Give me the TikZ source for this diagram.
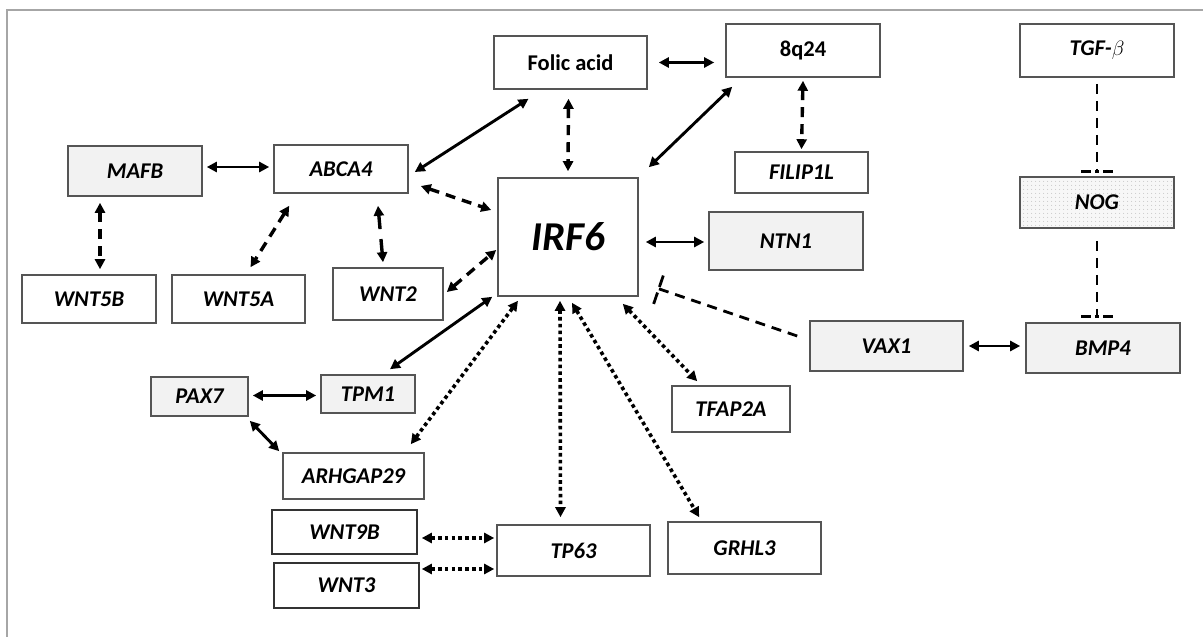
\documentclass[tikz,border=0pt]{standalone}
\usepackage{fontspec}
\setmainfont{Carlito}
\usetikzlibrary{arrows.meta,calc,patterns.meta}
\definecolor{boxgray}{HTML}{F2F2F2}
\definecolor{edgegray}{HTML}{555555}
\begin{document}
\begin{tikzpicture}[x=1pt,y=-1pt,
  gbox/.style={draw=edgegray,line width=1.6pt,fill=white,inner sep=0pt,
     font=\fontsize{22.5}{22.5}\selectfont\bfseries\itshape},
  sbox/.style={gbox,fill=boxgray},
  ubox/.style={gbox,font=\fontsize{22.5}{22.5}\selectfont\bfseries},
  >={Triangle[length=10pt,width=10pt]},
  solidarr/.style={<->,line width=2.9pt},
  dasharr/.style={<->,line width=3.4pt,dash pattern=on 10pt off 7pt},
  dotarr/.style={<->,line width=3.6pt,dash pattern=on 3.6pt off 3.2pt},
  inhib/.style={line width=2.8pt,dash pattern=on 10pt off 7pt},
  barline/.style={line width=2.8pt,dash pattern=on 10pt off 4pt on 4pt off 4pt on 10pt},
]
\useasboundingbox (0,0) rectangle (1203,637);
\draw[gray!70,line width=1.6pt] (7,637) -- (7,10) -- (1203,10);

% nodes
\node[ubox,minimum width=153pt,minimum height=53pt] (folic) at (570.5,62.5) {Folic acid};
\node[ubox,minimum width=154pt,minimum height=53pt] (q24) at (803,50.5) {8q24};
\node[gbox,minimum width=154pt,minimum height=53pt] (tgf) at (1097,50.5) {TGF-$\beta$};
\node[gbox,minimum width=133pt,minimum height=41pt] (filip) at (801.5,172.5) {FILIP1L};
\node[sbox,minimum width=154pt,minimum height=58pt] (ntn1) at (786,241) {NTN1};
\node[gbox,minimum width=154pt,minimum height=51pt,
      preaction={fill=gray!6},pattern={Dots[distance=4pt,radius=0.5pt]},pattern color=gray!60] (nog) at (1097,202.5) {NOG};
\node[gbox,minimum width=140pt,minimum height=118pt,font=\fontsize{41}{41}\selectfont\bfseries\itshape] (irf6) at (568,237) {IRF6};
\node[sbox,minimum width=134pt,minimum height=50pt] (mafb) at (135,171) {MAFB};
\node[gbox,minimum width=134pt,minimum height=48pt] (abca4) at (341,169) {ABCA4};
\node[gbox,minimum width=134pt,minimum height=48pt] (wnt5b) at (89,299) {WNT5B};
\node[gbox,minimum width=133pt,minimum height=48pt] (wnt5a) at (238.5,299) {WNT5A};
\node[gbox,minimum width=110pt,minimum height=52pt] (wnt2) at (388,294) {WNT2};
\node[sbox,minimum width=97pt,minimum height=39pt] (pax7) at (199.5,396.5) {PAX7};
\node[sbox,minimum width=94pt,minimum height=38pt] (tpm1) at (368,394) {TPM1};
\node[gbox,minimum width=141pt,minimum height=46pt] (arhgap) at (353.5,476) {ARHGAP29};
\node[gbox,draw=black!80,minimum width=145pt,minimum height=44pt] (wnt9b) at (344.5,532) {WNT9B};
\node[gbox,draw=black!80,minimum width=145pt,minimum height=45pt] (wnt3) at (346.5,585.5) {WNT3};
\node[gbox,minimum width=153pt,minimum height=51pt] (tp63) at (573.5,550.5) {TP63};
\node[gbox,minimum width=153pt,minimum height=52pt] (grhl3) at (744.5,548) {GRHL3};
\node[gbox,minimum width=118pt,minimum height=46pt] (tfap2a) at (731,409) {TFAP2A};
\node[sbox,minimum width=153pt,minimum height=50pt] (vax1) at (886.5,346) {VAX1};
\node[sbox,minimum width=154pt,minimum height=50pt] (bmp4) at (1103,348) {BMP4};

% solid connectors
\draw[solidarr] ($(folic.east)+(11,0)$) -- ($(folic.east -| q24.west)+(-11,0)$);
\draw[solidarr] ($(abca4.east)+(6,3)$) -- ($(folic.south)+(-42,9)$);
\draw[solidarr] ($(q24.south west)+(7,9)$) -- ($(irf6.north east)+(10,-10)$);
\draw[solidarr] ($(mafb.east)+(4,-4)$) -- ($(mafb.east -| abca4.west)+(-4,-4)$);
\draw[solidarr] ($(irf6.east)+(7,5)$) -- ($(irf6.east -| ntn1.west)+(-4,5)$);
\draw[solidarr] ($(tpm1.north)+(22,-5)$) -- ($(irf6.south west)+(-5,0)$);
\draw[solidarr] ($(pax7.east)+(4,-1)$) -- ($(pax7.east -| tpm1.west)+(-4,-1)$);
\draw[solidarr] ($(pax7.south east)+(1,4)$) -- ($(arhgap.north west)+(-3,-1)$);
\draw[solidarr] ($(vax1.east)+(5,0)$) -- ($(vax1.east -| bmp4.west)+(-5,0)$);

% dashed connectors
\draw[dasharr] ($(folic.south)+(-2,9)$) -- ($(irf6.north)+(0,-6)$);
\draw[dasharr] ($(q24.south)+(0,3)$) -- ($(filip.north)+(0,-2)$);
\draw[dasharr] ($(mafb.south)+(-35,6)$) -- ($(mafb.south |- wnt5b.north)+(-35,-5)$);
\draw[dasharr] ($(abca4.south west)+(16,12)$) -- ($(wnt5a.north)+(12,-7)$);
\draw[dasharr,dash pattern=on 14pt off 10pt] ($(abca4.south)+(37,12)$) -- ($(wnt2.north)+(-5,-5)$);
\draw[dasharr] ($(abca4.east)+(12,17)$) -- ($(irf6.west)+(-6,-27)$);
\draw[dasharr] ($(wnt2.east)+(3,-2)$) -- ($(irf6.west)+(-1,13)$);

% dotted connectors
\draw[dotarr] ($(arhgap.north east)+(-14,-8)$) -- ($(irf6.south)+(-50,4)$);
\draw[dotarr] ($(irf6.south)+(-8,4)$) -- ($(tp63.north)+(-13,-7)$);
\draw[dotarr] ($(irf6.south)+(4,6)$) -- ($(grhl3.north west)+(32,-4)$);
\draw[dotarr] ($(irf6.south east)+(-16,7)$) -- ($(tfap2a.north west)+(26,-4)$);
\draw[dotarr] ($(wnt9b.east)+(4,6)$) -- ($(wnt9b.east -| tp63.west)+(-2,6)$);
\draw[dotarr] ($(wnt3.east)+(2,-16.5)$) -- ($(wnt3.east -| tp63.west)+(-2,-16.5)$);

% inhibitions
\coordinate (vs) at ($(vax1.west)+(-12,-10)$);
\coordinate (ve) at ($(irf6.south east)+(20,-8)$);
\draw[inhib] (vs) -- (ve);
\draw[line width=2.8pt,dash pattern=on 12pt off 6pt] ($(ve)!16pt!-90:(vs)$) -- ($(ve)!16pt!90:(vs)$);

\coordinate (t1) at ($(tgf.south)+(0,6)$);
\coordinate (t2) at ($(nog.north)+(0,-5)$);
\draw[inhib] (t1) -- (t2);
\draw[barline] ($(t2)+(-16,0)$) -- ($(t2)+(16,0)$);

\coordinate (n1) at ($(nog.south)+(0,12)$);
\coordinate (n2) at ($(nog.south |- bmp4.north)+(0,-6)$);
\draw[inhib] (n1) -- (n2);
\draw[barline] ($(n2)+(-16,0)$) -- ($(n2)+(16,0)$);
\end{tikzpicture}
\end{document}
